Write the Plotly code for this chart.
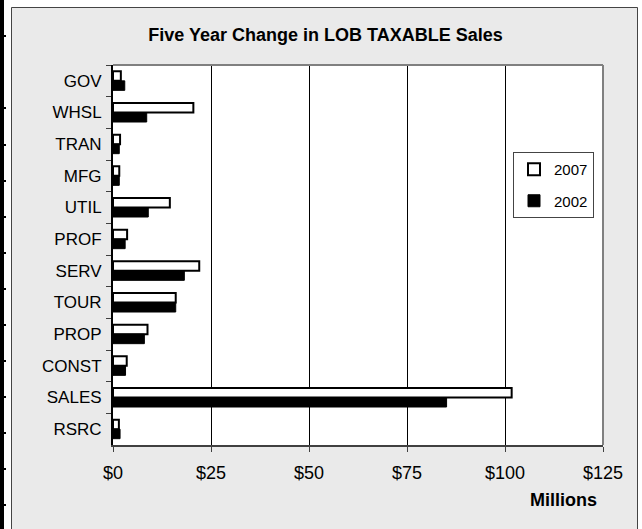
import plotly.graph_objects as go

categories = ["GOV", "WHSL", "TRAN", "MFG", "UTIL", "PROF", "SERV", "TOUR",
              "PROP", "CONST", "SALES", "RSRC"]
sales_2007 = [2.0, 20.5, 1.8, 1.6, 14.5, 3.6, 22.0, 16.0, 8.8, 3.5, 101.7, 1.5]
sales_2002 = [3.0, 8.6, 1.6, 1.6, 9.0, 3.1, 18.2, 16.0, 8.0, 3.2, 85.1, 1.8]
x_tickvals = [0, 25, 50, 75, 100, 125]
x_ticktext = ["$0", "$25", "$50", "$75", "$100", "$125"]

FONT = "Arial, Liberation Sans, sans-serif"

# plot area in pixels
L, R, T, B = 113, 603, 65, 445
W, H = 642, 529
PW, PH = R - L, B - T


def px(x):
    return (x - L) / PW


def py(y):
    return (B - y) / PH


fig = go.Figure()
fig.add_trace(go.Bar(
    y=categories, x=sales_2007, orientation="h", name="2007",
    marker=dict(color="white", line=dict(color="black", width=2)),
    legendgroup="a",
))
fig.add_trace(go.Bar(
    y=categories, x=sales_2002, orientation="h", name="2002",
    marker=dict(color="black", line=dict(color="black", width=1)),
    legendgroup="b",
))

shapes = []
# white areas outside the chart frame
for x0, x1, y0, y1 in [(0, 11, 0, W), (0, W, 0, 7), (638, W, 0, W)]:
    shapes.append(dict(type="rect", xref="paper", yref="paper",
                       x0=px(x0), x1=px(x1), y0=py(y1), y1=py(y0),
                       fillcolor="white", line=dict(width=0), layer="above"))
# chart frame
shapes.append(dict(type="rect", xref="paper", yref="paper",
                   x0=px(11.5), x1=px(637.5), y0=py(535), y1=py(7.5),
                   line=dict(color="#444", width=1), fillcolor="rgba(0,0,0,0)"))
# left spreadsheet strip
shapes.append(dict(type="rect", xref="paper", yref="paper",
                   x0=px(0), x1=px(4), y0=py(535), y1=py(0),
                   fillcolor="black", line=dict(width=0)))
for yy in [36, 108, 145, 181, 217, 253, 289, 325, 361, 397, 433, 469, 505]:
    shapes.append(dict(type="line", xref="paper", yref="paper",
                       x0=px(0), x1=px(6), y0=py(yy), y1=py(yy),
                       line=dict(color="black", width=2)))
# top and right plot borders
shapes.append(dict(type="line", xref="paper", yref="paper",
                   x0=0, x1=1, y0=1, y1=1, line=dict(color="#808080", width=2)))
shapes.append(dict(type="line", xref="paper", yref="paper",
                   x0=1, x1=1, y0=0, y1=1, line=dict(color="#808080", width=2)))

fig.update_layout(
    width=W, height=H,
    margin=dict(l=L, r=W - R, t=T, b=H - B, pad=0),
    paper_bgcolor="#eaeaea",
    plot_bgcolor="white",
    font=dict(family=FONT, color="black", size=16),
    title=dict(text="Five Year Change in LOB TAXABLE Sales",
               font=dict(family=FONT, size=18, weight="bold", color="black"),
               x=325.5 / W, xanchor="center", y=1 - 35 / H, yanchor="middle",
               xref="container", yref="container"),
    barmode="group", bargap=0.4, bargroupgap=0,
    showlegend=True,
    legend=dict(x=px(513), y=py(152), xanchor="left", yanchor="top",
                bgcolor="white", bordercolor="#444", borderwidth=1,
                font=dict(family=FONT, size=15, color="black"),
                traceorder="grouped", tracegroupgap=9, itemwidth=30),
    shapes=shapes,
    annotations=[dict(text="Millions", xref="paper", yref="paper",
                      x=px(563), y=py(500), xanchor="center", yanchor="middle",
                      showarrow=False,
                      font=dict(family=FONT, size=18, weight="bold", color="black"))],
)
fig.update_xaxes(range=[0, 125], tickvals=x_tickvals, ticktext=x_ticktext,
                 showgrid=True, gridcolor="black", gridwidth=1,
                 showline=True, linecolor="#404040", linewidth=2,
                 ticks="outside", ticklen=5, tickcolor="#404040", tickwidth=1,
                 tickfont=dict(size=18), ticklabelstandoff=5, zeroline=False,
                 fixedrange=True)
fig.update_yaxes(type="category", categoryorder="array", categoryarray=categories,
                 autorange="reversed",
                 showline=True, linecolor="black", linewidth=2,
                 tickson="boundaries", ticks="outside", ticklen=5,
                 tickcolor="#404040", tickwidth=1,
                 tickfont=dict(size=17), ticklabelstandoff=6, showgrid=False,
                 fixedrange=True)

fig.write_html("out.html", config={"displayModeBar": False},
               post_script="document.body.style.margin='0';")
